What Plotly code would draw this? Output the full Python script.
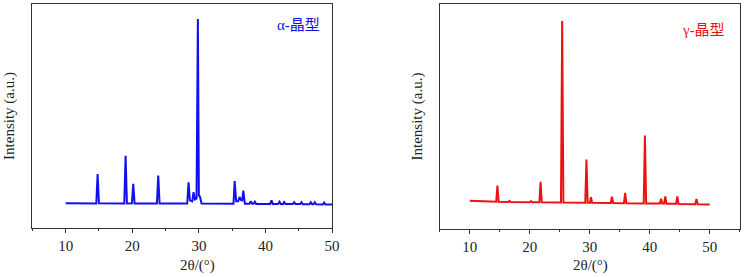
import plotly.graph_objects as go

# α-crystal form XRD trace (vertices)
alpha_2theta = [10.0, 14.6, 14.8, 15.0, 18.8, 19.0, 19.2, 19.95, 20.15, 20.35,
                23.7, 23.9, 24.1, 28.25, 28.45, 28.65, 29.0, 29.2, 29.4, 29.65,
                29.85, 30.0, 30.15, 30.4, 35.2, 35.37, 35.6, 35.9, 36.1, 36.3,
                36.5, 36.67, 36.9, 37.6, 37.8, 38.0, 38.2, 38.4, 38.6, 40.7,
                40.9, 41.1, 41.9, 42.1, 42.3, 42.6, 42.8, 43.0, 44.1, 44.3,
                44.5, 45.2, 45.4, 45.6, 46.6, 46.8, 47.0, 47.2, 47.4, 47.6,
                48.6, 48.8, 49.0, 50.0]
alpha_intensity = [0.0, -0.1, 15.8, -0.1, -0.2, 25.7, -0.1, 0.0, 10.5, -0.2,
                   -0.2, 15.0, -0.2, -0.2, 11.4, 1.5, 1.0, 6.0, 2.0, 2.5,
                   100.0, 4.0, 3.7, -0.2, -0.3, 12.0, 1.0, 1.0, 3.4, 1.8,
                   1.5, 6.8, -0.3, -0.3, 1.0, -0.3, -0.3, 0.8, -0.4, -0.4,
                   1.5, -0.4, -0.4, 0.8, -0.4, -0.5, 0.6, -0.5, -0.5, 0.5,
                   -0.5, -0.5, 0.5, -0.6, -0.6, 0.5, -0.6, -0.6, 0.5, -0.6,
                   -0.7, 0.4, -0.7, -0.7]

# γ-crystal form XRD trace
gamma_2theta = [10.0, 12.0, 14.4, 14.6, 14.8, 16.4, 16.6, 16.8, 20.0, 20.2,
                20.4, 21.6, 21.8, 22.0, 25.2, 25.4, 25.6, 29.25, 29.45, 29.65,
                30.05, 30.2, 30.4, 33.5, 33.7, 33.9, 35.7, 35.9, 36.1, 39.0,
                39.2, 39.4, 41.7, 41.9, 42.1, 42.4, 42.6, 42.8, 44.4, 44.6,
                44.8, 47.6, 47.8, 48.0, 50.0]
gamma_intensity = [0.6, 0.2, 0.0, 8.9, 0.0, -0.1, 0.5, -0.1, -0.2, 0.4,
                   -0.2, -0.3, 11.0, -0.3, -0.4, 100.0, -0.4, -0.5, 23.4, -0.5,
                   -0.5, 2.6, -0.6, -0.7, 2.8, -0.7, -0.8, 5.0, -0.8, -0.9,
                   36.7, -0.9, -1.0, 1.7, -1.0, -1.0, 3.0, -1.1, -1.1, 3.0,
                   -1.2, -1.3, 1.5, -1.4, -1.5]

major_ticks = [10, 20, 30, 40, 50]
major_labels = ["10", "20", "30", "40", "50"]
minor_ticks = [5, 15, 25, 35, 45, 55]

serif = "Liberation Serif, Times New Roman, serif"
cjk = "Liberation Serif, Noto Sans CJK SC, serif"

fig = go.Figure()
fig.add_trace(go.Scatter(x=alpha_2theta, y=alpha_intensity, mode="lines",
                         line=dict(color="#1010ee", width=2), xaxis="x", yaxis="y",
                         showlegend=False))
fig.add_trace(go.Scatter(x=gamma_2theta, y=gamma_intensity, mode="lines",
                         line=dict(color="#ee1111", width=2), xaxis="x2", yaxis="y2",
                         showlegend=False))

axis_common = dict(showline=True, linecolor="#333", linewidth=1, mirror=True,
                   showgrid=False, zeroline=False)
xcommon = dict(axis_common, ticks="outside", ticklen=4, tickcolor="#333",
               tickmode="array", tickvals=major_ticks, ticktext=major_labels,
               minor=dict(ticks="outside", ticklen=2, tickcolor="#333",
                          tickmode="array", tickvals=minor_ticks, showgrid=False),
               tickfont=dict(family=serif, size=15, color="#222"))
ycommon = dict(axis_common, showticklabels=False, ticks="")

# annotation pixel positions (x, y from top-left), converted to paper fractions below
labels = [
    dict(text="α-晶型", px=302, py=25, angle=0, color="#1010ee", family=cjk),
    dict(text="γ-晶型", px=711, py=30, angle=0, color="#ee1111", family=cjk),
    dict(text="Intensity (a.u.)", px=10, py=116, angle=-90, color="#222", family=serif),
    dict(text="2θ/(°)", px=200, py=265, angle=0, color="#222", family=serif),
    dict(text="Intensity (a.u.)", px=423, py=116, angle=-90, color="#222", family=serif),
    dict(text="2θ/(°)", px=597, py=265, angle=0, color="#222", family=serif),
]
annotations = [
    dict(text=l["text"], x=l["px"] / 751, y=1 - l["py"] / 277, xref="paper", yref="paper",
         textangle=l["angle"], showarrow=False, xanchor="center", yanchor="middle",
         font=dict(family=l["family"], size=15, color=l["color"]))
    for l in labels
]

fig.update_layout(
    width=751, height=277, margin=dict(l=0, r=0, t=0, b=0),
    paper_bgcolor="white", plot_bgcolor="white",
    xaxis=dict(xcommon, domain=[0.0435, 0.447], range=[5, 50]),
    yaxis=dict(ycommon, domain=[0.176, 0.986], range=[-13.6, 108.2], anchor="x"),
    xaxis2=dict(xcommon, domain=[0.592, 0.9955], range=[5, 55], anchor="y2"),
    yaxis2=dict(ycommon, domain=[0.173, 0.986], range=[-15.1, 109.5], anchor="x2"),
    annotations=annotations,
)

fig.write_html("out.html", config={"displayModeBar": False},
               post_script="document.body.style.margin='0';document.body.style.overflow='hidden';")
